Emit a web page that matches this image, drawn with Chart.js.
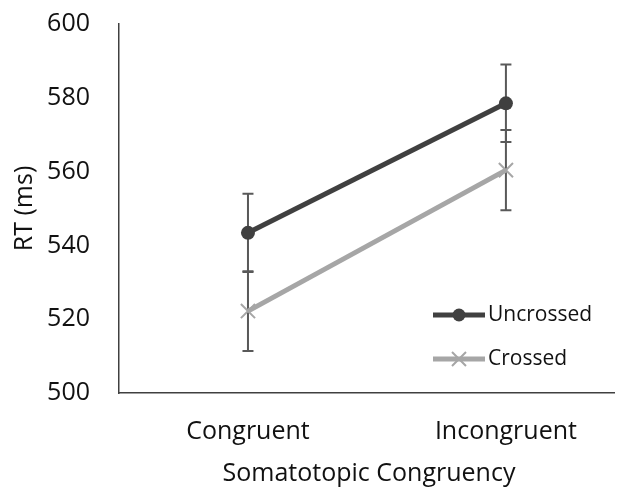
<!DOCTYPE html>
<html>
<head>
<meta charset="utf-8">
<script src="https://cdn.jsdelivr.net/npm/chart.js@4/dist/chart.umd.min.js"></script>
<style>
  html, body { margin: 0; padding: 0; background: #fff; overflow: hidden; }
  #wrap { width: 626px; height: 487px; position: relative; }
  canvas { display: block; }
</style>
</head>
<body>
<div id="wrap"><canvas id="chart"></canvas></div>
<script>
// Data
const kategori = ['Congruent', 'Incongruent'];
const uncrossed = [543.4, 578.5];
const uncrossedErr = [10.6, 10.5];
const crossed = [522.2, 560.4];
const crossedErr = [10.8, 10.9];
const yTicks = [500, 520, 540, 560, 580, 600];

const warnaGelap = '#404040';
const warnaTerang = '#a6a6a6';
const warnaError = '#595959';
const font = "'Open Sans', sans-serif";

function toPoints(arr) {
    return arr.map((v, i) => ({ x: i, y: v }));
}

// buang padding otomatis dari skala
function noPad(s) {
    s.paddingTop = 0; s.paddingBottom = 0;
    s.paddingLeft = 0; s.paddingRight = 0;
}

// Error bars drawn through the scales
const errorBars = {
    id: 'errorBars',
    beforeDatasetsDraw(chart) {
        const ctx = chart.ctx;
        const xs = chart.scales.x, ys = chart.scales.y;
        const sets = [[uncrossed, uncrossedErr], [crossed, crossedErr]];
        ctx.save();
        ctx.strokeStyle = warnaError;
        ctx.lineWidth = 2;
        sets.forEach(([vals, errs]) => {
            vals.forEach((v, i) => {
                const x = xs.getPixelForValue(i);
                const top = ys.getPixelForValue(v + errs[i]);
                const bot = ys.getPixelForValue(v - errs[i]);
                ctx.beginPath();
                ctx.moveTo(x, top); ctx.lineTo(x, bot);
                ctx.moveTo(x - 5.5, top); ctx.lineTo(x + 5.5, top);
                ctx.moveTo(x - 5.5, bot); ctx.lineTo(x + 5.5, bot);
                ctx.stroke();
            });
        });
        ctx.restore();
    }
};

// Legend inside plot + axis titles
const extras = {
    id: 'extras',
    afterDraw(chart) {
        const ctx = chart.ctx;
        const area = chart.chartArea;
        ctx.save();
        const items = [
            { label: 'Uncrossed', color: warnaGelap, y: 315, dot: true },
            { label: 'Crossed', color: warnaTerang, y: 359, dot: false }
        ];
        items.forEach(it => {
            ctx.strokeStyle = it.color;
            ctx.lineWidth = 5;
            ctx.beginPath();
            ctx.moveTo(433, it.y); ctx.lineTo(485, it.y);
            ctx.stroke();
            if (it.dot) {
                ctx.fillStyle = it.color;
                ctx.beginPath();
                ctx.arc(459, it.y, 6.5, 0, Math.PI * 2);
                ctx.fill();
            } else {
                ctx.lineWidth = 2;
                ctx.beginPath();
                ctx.moveTo(452, it.y - 7); ctx.lineTo(466, it.y + 7);
                ctx.moveTo(466, it.y - 7); ctx.lineTo(452, it.y + 7);
                ctx.stroke();
            }
            ctx.fillStyle = '#111';
            ctx.font = '21px ' + font;
            ctx.textBaseline = 'middle';
            ctx.fillText(it.label, 488, it.y);
        });

        // x title
        ctx.font = '25px ' + font;
        ctx.fillStyle = '#111';
        ctx.textAlign = 'center';
        ctx.textBaseline = 'alphabetic';
        ctx.fillText('Somatotopic Congruency', 369, 481);

        // y title
        ctx.translate(25, (area.top + area.bottom) / 2);
        ctx.rotate(-Math.PI / 2);
        ctx.textBaseline = 'middle';
        ctx.fillText('RT (ms)', 0, 0);
        ctx.restore();
    }
};

new Chart(document.getElementById('chart'), {
    type: 'line',
    data: {
        datasets: [{
            label: 'Uncrossed',
            data: toPoints(uncrossed),
            borderColor: warnaGelap,
            backgroundColor: warnaGelap,
            borderWidth: 5,
            pointRadius: 7,
            pointBorderWidth: 0,
            pointStyle: 'circle'
        }, {
            label: 'Crossed',
            data: toPoints(crossed),
            borderColor: warnaTerang,
            backgroundColor: warnaTerang,
            borderWidth: 5,
            pointRadius: 10,
            pointBorderWidth: 2,
            pointStyle: 'crossRot'
        }]
    },
    options: {
        responsive: true,
        maintainAspectRatio: false,
        animation: false,
        layout: { padding: { top: 24, right: 0, left: 0, bottom: 0 } },
        plugins: { legend: { display: false }, tooltip: { enabled: false } },
        scales: {
            x: {
                type: 'linear',
                min: -0.5,
                max: 1.419,
                afterBuildTicks: s => { s.ticks = kategori.map((k, i) => ({ value: i })); },
                afterFit: s => { s.height = 94; noPad(s); },
                ticks: {
                    callback: v => kategori[v],
                    font: { size: 25, family: font },
                    color: '#111',
                    padding: 24,
                    autoSkip: false,
                    maxRotation: 0
                },
                grid: { display: false, drawTicks: false },
                border: { display: true, color: '#404040', width: 1.5 }
            },
            y: {
                min: 500,
                max: 600,
                afterBuildTicks: s => { s.ticks = yTicks.map(v => ({ value: v })); },
                afterFit: s => { s.width = 119; noPad(s); },
                ticks: {
                    font: { size: 25, family: font },
                    color: '#111',
                    padding: 29
                },
                grid: { display: false, drawTicks: false },
                border: { display: true, color: '#404040', width: 1.5 }
            }
        }
    },
    plugins: [errorBars, extras]
});
</script>
</body>
</html>
